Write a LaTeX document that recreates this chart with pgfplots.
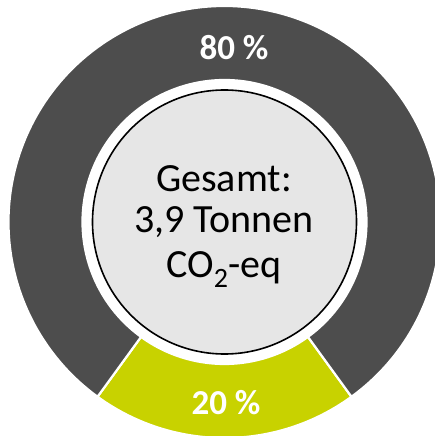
\documentclass[border=0pt]{standalone}
\usepackage{pgfplots}
\pgfplotsset{compat=1.18}
\usepackage{fontspec}
\setmainfont{Carlito}
\usetikzlibrary{calc}
\definecolor{ringgray}{HTML}{4D4D4D}
\definecolor{ringgreen}{HTML}{C8D200}
\definecolor{centergray}{HTML}{E6E6E6}
% shares (percent)
\def\shareGray{80}
\def\shareGreen{20}
\pgfmathsetmacro{\gA}{270-\shareGreen*1.8}
\pgfmathsetmacro{\gB}{270+\shareGreen*1.8}
\pgfmathsetmacro{\kB}{\gA+360}
\def\cx{224.5}\def\cy{214}
\def\Ro{216pt}\def\Ri{142pt}
\begin{document}
\begin{tikzpicture}
\useasboundingbox (0,0) rectangle (435pt,436pt);
\fill[white] (0,0) rectangle (435pt,436pt);
\clip (0,0) rectangle (435pt,436pt);
\begin{axis}[
  at={(0,0)}, anchor=south west,
  scale only axis, width=435pt, height=436pt,
  xmin=0, xmax=435, ymin=0, ymax=436,
  hide axis, clip=false,
]
\addplot[draw=none, forget plot] coordinates {(\cx,\cy)};
% green segment (20 %)
\fill[ringgreen, draw=white, line width=2.2pt]
  ([shift={(\gA:\Ro)}]axis cs:\cx,\cy) arc[start angle=\gA, end angle=\gB, radius=\Ro]
  -- ([shift={(\gB:\Ri)}]axis cs:\cx,\cy) arc[start angle=\gB, end angle=\gA, radius=\Ri] -- cycle;
% gray segment (80 %)
\fill[ringgray, draw=white, line width=2.2pt]
  ([shift={(\gB:\Ro)}]axis cs:\cx,\cy) arc[start angle=\gB, end angle=\kB, radius=\Ro]
  -- ([shift={(\kB:\Ri)}]axis cs:\cx,\cy) arc[start angle=\kB, end angle=\gB, radius=\Ri] -- cycle;
% center disc
\filldraw[fill=centergray, draw=black, line width=1.6pt] (axis cs:\cx,\cy) circle[radius=132pt];
% labels
\node[text=white, font=\fontsize{35}{40}\selectfont\bfseries, anchor=center] at (axis cs:234,388) {80 \%};
\node[text=white, font=\fontsize{35}{40}\selectfont\bfseries, anchor=center] at (axis cs:226,33) {20 \%};
\node[font=\fontsize{40}{44}\selectfont, anchor=base] at (axis cs:224,244) {Gesamt:};
\node[font=\fontsize{40}{44}\selectfont, anchor=base] at (axis cs:224,203) {3,9 Tonnen};
\node[font=\fontsize{40}{44}\selectfont, anchor=base] at (axis cs:224,158) {CO\textsubscript{2}-eq};
\end{axis}
\end{tikzpicture}
\end{document}
